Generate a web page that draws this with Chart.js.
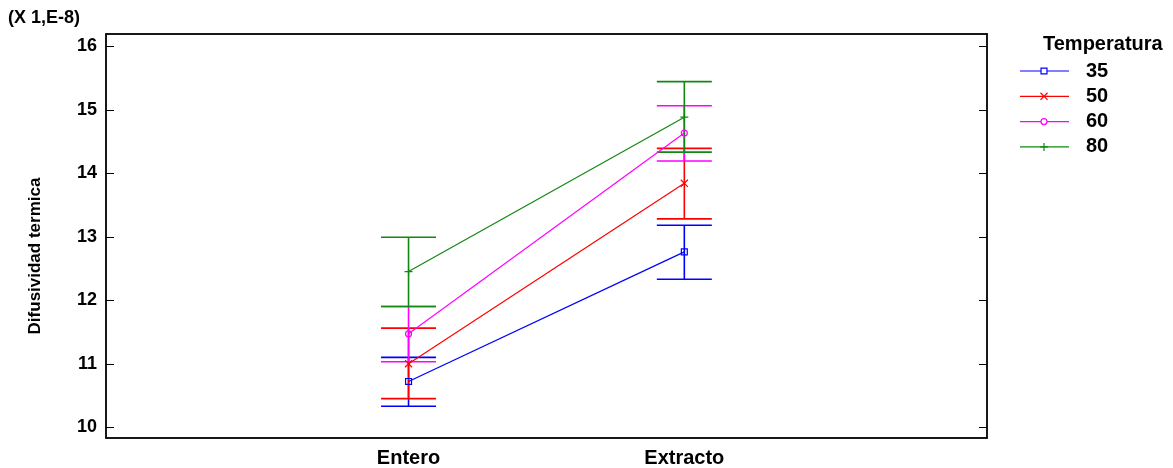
<!DOCTYPE html>
<html>
<head>
<meta charset="utf-8">
<script src="https://cdn.jsdelivr.net/npm/chart.js@4/dist/chart.umd.min.js"></script>
<style>
  html, body { margin: 0; padding: 0; background: #ffffff; }
  #wrap { width: 1173px; height: 468px; position: relative; }
</style>
</head>
<body>
<div id="wrap"><canvas id="c" width="1173" height="468"></canvas></div>
<script>
// Factor levels
const categories = ['Entero', 'Extracto'];
const temperatures = ['35', '50', '60', '80'];

// Means per temperature (units of 1E-8)
const mean35 = [10.72, 12.76];
const mean50 = [11.00, 13.84];
const mean60 = [11.47, 14.63];
const mean80 = [12.45, 14.88];

// Interval limits per temperature
const low35 = [10.33, 12.33];
const high35 = [11.10, 13.18];
const low50 = [10.45, 13.28];
const high50 = [11.56, 14.39];
const low60 = [11.03, 14.19];
const high60 = [11.90, 15.06];
const low80 = [11.90, 14.33];
const high80 = [12.99, 15.44];

// Axis ticks
const yTicks = [10, 11, 12, 13, 14, 15, 16];
const yTitle = 'Difusividad termica';
const yMultiplier = '(X 1,E-8)';
const legendTitle = 'Temperatura';

const FONT = "'Liberation Sans', Arial, sans-serif";

const seriesStyle = [
  { color: '#0000ff', pointStyle: 'rect', radius: 4.2 },
  { color: '#ff0000', pointStyle: 'crossRot', radius: 5 },
  { color: '#ff00ff', pointStyle: 'circle', radius: 3 },
  { color: '#118811', pointStyle: 'cross', radius: 4 }
];

const means = [mean35, mean50, mean60, mean80];
const lows = [low35, low50, low60, low80];
const highs = [high35, high50, high60, high80];

const datasets = temperatures.map((t, k) => ({
  label: t,
  data: categories.map((c, i) => ({ x: i, y: means[k][i] })),
  errLow: lows[k],
  errHigh: highs[k],
  borderColor: seriesStyle[k].color,
  borderWidth: 1.2,
  pointStyle: seriesStyle[k].pointStyle,
  pointRadius: seriesStyle[k].radius,
  pointHoverRadius: seriesStyle[k].radius,
  pointBorderColor: seriesStyle[k].color,
  pointBackgroundColor: 'rgba(255,255,255,0)',
  pointBorderWidth: 1.2,
  fill: false,
  tension: 0
}));

// Interval bars, frame, inward ticks, titles and legend
const decorations = {
  id: 'decorations',
  beforeDatasetsDraw(chart) {
    const { ctx, scales: { x, y } } = chart;
    const half = 27.5;
    ctx.save();
    ctx.lineWidth = 1.6;
    chart.data.datasets.forEach(ds => {
      ctx.strokeStyle = ds.borderColor;
      ds.errLow.forEach((lo, i) => {
        const hi = ds.errHigh[i];
        const px = x.getPixelForValue(i);
        const yl = y.getPixelForValue(lo);
        const yh = y.getPixelForValue(hi);
        ctx.beginPath();
        ctx.moveTo(px, yl); ctx.lineTo(px, yh);
        ctx.moveTo(px - half, yl); ctx.lineTo(px + half, yl);
        ctx.moveTo(px - half, yh); ctx.lineTo(px + half, yh);
        ctx.stroke();
      });
    });
    ctx.restore();
  },
  afterDraw(chart) {
    const { ctx, chartArea: a, scales: { y } } = chart;
    ctx.save();
    // frame
    ctx.strokeStyle = '#000';
    ctx.lineWidth = 1.8;
    ctx.strokeRect(a.left, a.top, a.right - a.left, a.bottom - a.top);
    // inward ticks on both sides
    ctx.lineWidth = 1;
    yTicks.forEach(v => {
      const py = Math.round(y.getPixelForValue(v)) + 0.5;
      ctx.beginPath();
      ctx.moveTo(a.left, py); ctx.lineTo(a.left + 8, py);
      ctx.moveTo(a.right, py); ctx.lineTo(a.right - 8, py);
      ctx.stroke();
    });
    // multiplier label
    ctx.fillStyle = '#000';
    ctx.font = 'bold 18px ' + FONT;
    ctx.textAlign = 'left';
    ctx.textBaseline = 'middle';
    ctx.fillText(yMultiplier, 8, 18);
    // y-axis title
    ctx.save();
    ctx.translate(35, 256);
    ctx.rotate(-Math.PI / 2);
    ctx.textAlign = 'center';
    ctx.font = 'bold 17px ' + FONT;
    ctx.fillText(yTitle, 0, 0);
    ctx.restore();
    // legend
    ctx.font = 'bold 20px ' + FONT;
    ctx.textAlign = 'left';
    ctx.fillText(legendTitle, 1043, 44);
    chart.data.datasets.forEach((ds, k) => {
      const ly = 71 + k * 25.3;
      ctx.strokeStyle = ds.borderColor;
      ctx.lineWidth = 1.2;
      ctx.beginPath();
      ctx.moveTo(1020, ly); ctx.lineTo(1069, ly);
      ctx.stroke();
      ctx.fillStyle = '#ffffff';
      Chart.helpers.drawPoint(ctx, {
        pointStyle: ds.pointStyle,
        radius: ds.pointRadius,
        borderWidth: 1.2,
        rotation: 0
      }, 1044, ly);
      ctx.fillStyle = '#000';
      ctx.fillText(ds.label, 1086, ly);
    });
    ctx.restore();
  }
};

new Chart(document.getElementById('c'), {
  type: 'line',
  data: { datasets },
  options: {
    responsive: false,
    animation: false,
    devicePixelRatio: 1,
    layout: { padding: { left: 0, right: 186, top: 34, bottom: 0 } },
    plugins: { legend: { display: false }, tooltip: { enabled: false } },
    scales: {
      x: {
        type: 'linear',
        min: -1.097,
        max: 2.0975,
        afterFit(s) { s.height = 30; },
        afterBuildTicks(s) { s.ticks = categories.map((c, i) => ({ value: i })); },
        grid: { display: false, drawTicks: false },
        border: { display: false },
        ticks: {
          callback: v => categories[v],
          color: '#000',
          padding: 8,
          maxRotation: 0,
          font: { family: FONT, size: 20, weight: 'bold' }
        }
      },
      y: {
        type: 'linear',
        min: 9.83,
        max: 16.19,
        afterFit(s) { s.width = 106; },
        afterBuildTicks(s) { s.ticks = yTicks.map(v => ({ value: v })); },
        grid: { display: false, drawTicks: false },
        border: { display: false },
        ticks: {
          color: '#000',
          padding: 9,
          font: { family: FONT, size: 18, weight: 'bold' }
        }
      }
    }
  },
  plugins: [decorations]
});
</script>
</body>
</html>
